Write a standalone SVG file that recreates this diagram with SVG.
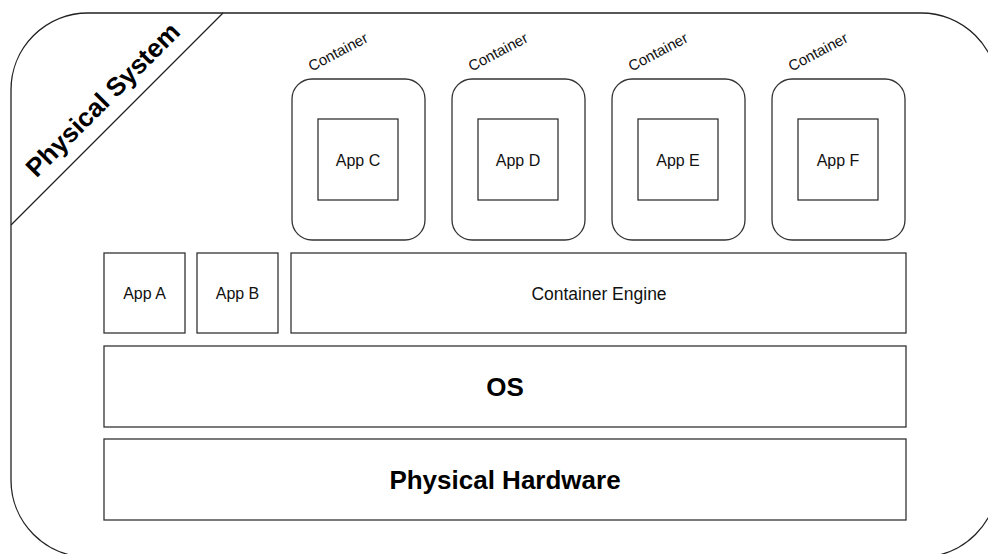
<svg xmlns="http://www.w3.org/2000/svg" width="988" height="554" viewBox="0 0 988 554">
<style>
.box{fill:#fff;stroke:#333;stroke-width:1.3}
.ctr{fill:#fff;stroke:#333;stroke-width:1.3}
.lbl{font-family:"Liberation Sans",Arial,sans-serif;font-size:16px;fill:#111;text-anchor:middle}
.big{font-family:"Liberation Sans",Arial,sans-serif;font-size:26px;font-weight:bold;fill:#000;text-anchor:middle}
.clbl{font-family:"Liberation Sans",Arial,sans-serif;font-size:15px;fill:#111;text-anchor:middle}
</style>
<rect width="988" height="554" fill="#fff"/>
<g id="physical-system">
<rect x="11" y="13" width="987" height="544" rx="77" ry="77" fill="#fff" stroke="#222" stroke-width="1.3"/>
<line x1="11" y1="225" x2="223" y2="13" stroke="#222" stroke-width="1.3"/>
<text class="big" transform="translate(109,106) rotate(-45)">Physical System</text>
</g>
<g id="container-c">
<rect class="ctr" x="292" y="79" width="133" height="161" rx="20"/>
<text class="clbl" transform="translate(338,52) rotate(-28)" y="5">Container</text>
</g>
<g id="app-c"><rect class="box" x="318" y="119" width="80" height="81"/><text class="lbl" x="358" y="165.5">App C</text></g>
<g id="container-d">
<rect class="ctr" x="452" y="79" width="133" height="161" rx="20"/>
<text class="clbl" transform="translate(498,52) rotate(-28)" y="5">Container</text>
</g>
<g id="app-d"><rect class="box" x="478" y="119" width="80" height="81"/><text class="lbl" x="518" y="165.5">App D</text></g>
<g id="container-e">
<rect class="ctr" x="612" y="79" width="133" height="161" rx="20"/>
<text class="clbl" transform="translate(658,52) rotate(-28)" y="5">Container</text>
</g>
<g id="app-e"><rect class="box" x="638" y="119" width="80" height="81"/><text class="lbl" x="678" y="165.5">App E</text></g>
<g id="container-f">
<rect class="ctr" x="772" y="79" width="133" height="161" rx="20"/>
<text class="clbl" transform="translate(818,52) rotate(-28)" y="5">Container</text>
</g>
<g id="app-f"><rect class="box" x="798" y="119" width="80" height="81"/><text class="lbl" x="838" y="165.5">App F</text></g>
<g id="app-a"><rect class="box" x="104" y="253" width="81" height="80"/><text class="lbl" x="144.5" y="298.5">App A</text></g>
<g id="app-b"><rect class="box" x="197" y="253" width="81" height="80"/><text class="lbl" x="237.5" y="298.5">App B</text></g>
<g id="container-engine"><rect class="box" x="291" y="253" width="615" height="80"/><text class="lbl" x="599" y="299.5" style="font-size:17.5px">Container Engine</text></g>
<g id="os"><rect class="box" x="104" y="346" width="802" height="81"/><text class="big" x="505" y="395.5">OS</text></g>
<g id="hardware"><rect class="box" x="104" y="439" width="802" height="81"/><text class="big" x="505" y="488.5">Physical Hardware</text></g>
<g id="connectors"></g>
</svg>
